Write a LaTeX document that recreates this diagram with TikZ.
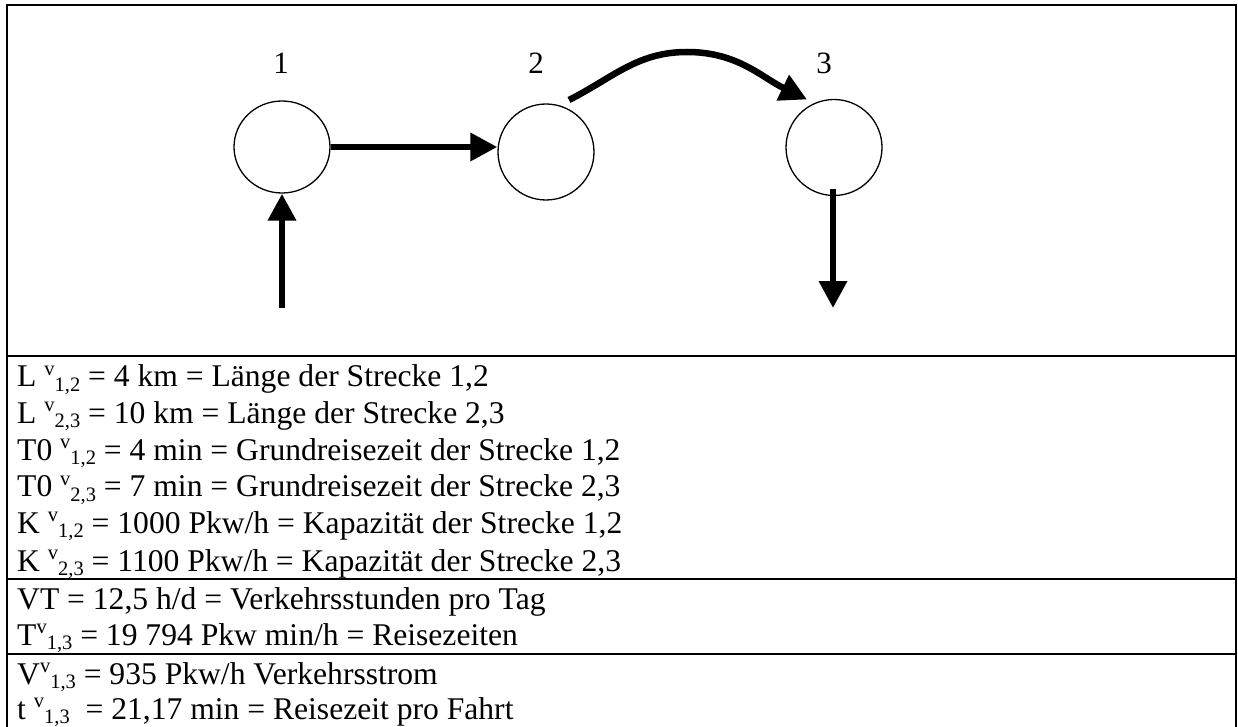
\documentclass[tikz,border=0pt]{standalone}
\usepackage{fontspec}
\setmainfont{Liberation Serif}
\usetikzlibrary{arrows.meta,calc,shapes.geometric}
\newcommand{\sv}{\raisebox{0.36em}{\fontsize{20.5}{20.5}\selectfont v}}
\newcommand{\sx}[1]{\raisebox{-0.14em}{\fontsize{20.5}{20.5}\selectfont #1}}
\begin{document}
\begin{tikzpicture}[x=1pt,y=-1pt,
  frame/.style={line width=2.2pt,black},
  sep/.style={line width=2pt,black},
  knot/.style={draw,ellipse,line width=1.3pt,minimum width=96pt,minimum height=96pt,inner sep=0pt},
  knotlabel/.style={font=\fontsize{31}{31}\selectfont,inner sep=0pt},
  flow/.style={line width=6.5pt,-{Triangle[length=27pt,width=27pt]}},
  txt/.style={anchor=base west,inner sep=0pt,font=\fontsize{31.6}{37}\selectfont}]
\useasboundingbox (0,0) rectangle (1238,727);
% frame
\draw[frame] (7,727) -- (7,5) -- (1236,5) -- (1236,727);
\draw[sep] (7,356) -- (1236,356);
\draw[sep] (7,578.5) -- (1236,578.5);
\draw[sep] (7,654) -- (1236,654);
% nodes
\node[knot,minimum height=92pt] (n1) at (282,147) {};
\node[knot] (n2) at (546,152) {};
\node[knot] (n3) at (834,147.5) {};
\node[knotlabel] (l1) at (281,63) {1};
\node[knotlabel] (l2) at (536,63) {2};
\node[knotlabel] (l3) at (824,63) {3};
% connectors
\coordinate (in1) at (282,308);
\coordinate (out3) at (833,308);
\coordinate (c2) at ($(n2.center)+(23,-52)$);
\coordinate (c3) at ($(n3.center)+(-27,-48)$);
\coordinate (d3) at ($(n3.south)+(-1,-7)$);
\draw[flow] (n1.east) -- (n2.west |- n1.east);
\draw[flow] (in1) -- (n1.south);
\draw[flow] (d3) -- (out3);
\draw[flow] (c2) to[out=27,in=180] (687,52) to[out=0,in=154] (c3);
% texts
\node[txt] (t1) at (17,386.7) {L \sv\sx{1,2} = 4 km = Länge der Strecke 1,2};
\node[txt] (t2) at (17,423.3) {L \sv\sx{2,3} = 10 km = Länge der Strecke 2,3};
\node[txt] (t3) at (17,460) {T0 \sv\sx{1,2} = 4 min = Grundreisezeit der Strecke 1,2};
\node[txt] (t4) at (17,496.7) {T0 \sv\sx{2,3} = 7 min = Grundreisezeit der Strecke 2,3};
\node[txt] (t5) at (17,533.3) {K \sv\sx{1,2} = 1000 Pkw/h = Kapazität der Strecke 1,2};
\node[txt] (t6) at (17,571) {K \sv\sx{2,3} = 1100 Pkw/h = Kapazität der Strecke 2,3};
\node[txt] (t7) at (17,609) {VT = 12,5 h/d = Verkehrsstunden pro Tag};
\node[txt] (t8) at (17,645) {T\sv\sx{1,3} = 19 794 Pkw min/h = Reisezeiten};
\node[txt] (t9) at (17,684) {V\sv\sx{1,3} = 935 Pkw/h Verkehrsstrom};
\node[txt] (t10) at (17,719) {t \sv\sx{1,3}\ \ = 21,17 min = Reisezeit pro Fahrt};
\end{tikzpicture}
\end{document}
